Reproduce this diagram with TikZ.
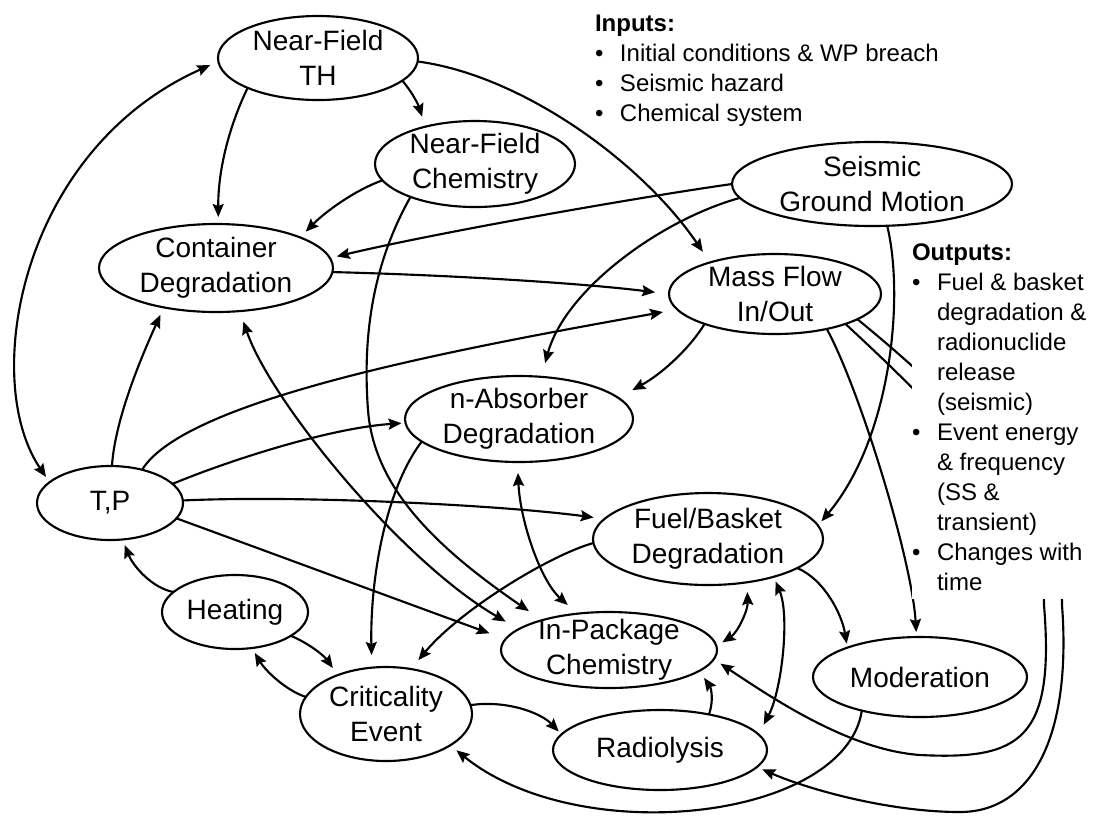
\documentclass[tikz,border=0pt]{standalone}
\usepackage{fontspec}
\setmainfont{Liberation Sans}
\usetikzlibrary{shapes.geometric,arrows.meta}
\begin{document}
\begin{tikzpicture}[x=0.75pt,y=-0.75pt,
  >={Stealth[length=9.75pt,width=8.25pt,inset=1.5pt]},
  ell/.style={draw, ellipse, line width=1.6pt, inner sep=0pt, outer sep=0pt},
  nt/.style={font=\fontsize{21}{26.25}\selectfont, align=center, inner sep=0pt},
  conn/.style={line width=1.6pt},
  arr/.style={conn, ->, shorten >=4pt},
  darr/.style={conn, <->, shorten >=4pt, shorten <=4pt},
  lst/.style={font=\fontsize{18}{22.5}\selectfont, inner sep=0pt, outer sep=0pt, anchor=north west}
]
\useasboundingbox (0,0) rectangle (1094,815);

% ---- nodes ----
\node[ell, minimum width=150pt, minimum height=63pt, label={[nt]center:{Near-Field\\TH}}] (NFTH) at (318,58) {};
\node[ell, minimum width=150pt, minimum height=64.5pt, label={[nt]center:{Near-Field\\Chemistry}}] (NFC) at (475,164) {};
\node[ell, minimum width=175.5pt, minimum height=66pt, label={[nt]center:{Container\\Degradation}}] (CD) at (216,268) {};
\node[ell, minimum width=210pt, minimum height=63pt, label={[nt]center:{Seismic\\Ground Motion}}] (SGM) at (872,184) {};
\node[ell, minimum width=159pt, minimum height=60pt, label={[nt]center:{Mass Flow\\In/Out}}] (MF) at (775,294) {};
\node[ell, minimum width=171pt, minimum height=64.5pt, label={[nt]center:{n-Absorber\\Degradation}}] (NA) at (519,419) {};
\node[ell, minimum width=109.5pt, minimum height=55.5pt, label={[nt]center:{T,P}}] (TP) at (110,503) {};
\node[ell, minimum width=172.5pt, minimum height=69pt, label={[nt]center:{Fuel/Basket\\Degradation}}] (FB) at (708,539) {};
\node[ell, minimum width=109.5pt, minimum height=55.5pt, label={[nt]center:{Heating}}] (Heat) at (235,612) {};
\node[ell, minimum width=162pt, minimum height=57pt, label={[nt]center:{In-Package\\Chemistry}}] (IPC) at (609,650) {};
\node[ell, minimum width=129pt, minimum height=70.5pt, label={[nt]center:{Criticality\\Event}}] (CE) at (386,714) {};
\node[ell, minimum width=160.5pt, minimum height=60pt, label={[nt]center:{Radiolysis}}] (Rad) at (660,750) {};
\node[ell, minimum width=160.5pt, minimum height=60pt, label={[nt]center:{Moderation}}] (Mod) at (920,677) {};

% ---- connectors ----
\draw[arr, shorten >=5.25pt] (NFTH.-157) .. controls (232,120) and (218,165) .. (CD.87);
\draw[arr, shorten >=7.9pt] (NFTH.-15) .. controls (412,92) and (418,104) .. (NFC.143);
\draw[arr, shorten >=9.6pt] (NFTH.-2) .. controls (520,75) and (640,160) .. (MF.154);
\draw[darr, shorten <=4.8pt, shorten >=6.75pt] (TP.161) .. controls (-20,380) and (20,150) .. (NFTH.182);
\draw[arr, shorten >=6pt] (NFC.190) .. controls (355,190) and (325,212) .. (CD.20);
\draw[arr, shorten >=12pt] (NFC.207) .. controls (375,260) and (362,330) .. (368,410) .. controls (374,490) and (440,550) .. (IPC.156);
\draw[arr, shorten >=5.25pt] (SGM.180) .. controls (640,197) and (440,232) .. (CD.5);
\draw[arr, shorten >=10.7pt] (SGM.186) .. controls (660,220) and (565,290) .. (NA.62);
\draw[arr, shorten >=4.1pt] (SGM.-70) .. controls (905,300) and (890,440) .. (FB.7);
\draw[arr, shorten >=12pt] (MF.203) .. controls (692,345) and (665,372) .. (NA.12);
\draw[arr, shorten >=3.75pt] (MF.-34) .. controls (860,390) and (912,560) .. (Mod.95);
\draw[arr, shorten >=10.5pt] (CD.-2) .. controls (450,275) and (580,283) .. (MF.180);
\draw[arr, shorten >=6.2pt] (TP.87) .. controls (115,420) and (140,360) .. (CD.217);
\draw[arr, shorten >=10.9pt] (TP.46) .. controls (185,400) and (450,350) .. (MF.189);
\draw[arr, shorten >=3pt] (TP.17) .. controls (230,460) and (330,428) .. (NA.182);
\draw[arr, shorten >=8.25pt] (TP.2) .. controls (300,495) and (500,505) .. (FB.169);
\draw[arr, shorten >=12.75pt] (TP.-13) .. controls (285,558) and (390,597) .. (IPC.174);
\draw[darr, shorten <=8.25pt, shorten >=11.25pt] (CD.-61) .. controls (270,400) and (400,560) .. (IPC.167);
\draw[arr, shorten >=9.5pt] (NA.193) .. controls (385,490) and (370,580) .. (CE.107);
\draw[arr, shorten >=8.7pt] (FB.182) .. controls (550,555) and (460,610) .. (CE.61);
\draw[darr, shorten <=8.25pt, shorten >=9.75pt] (NA.-92) .. controls (520,520) and (540,580) .. (IPC.131);
\draw[darr, shorten <=7.3pt, shorten >=5.25pt] (FB.-48) .. controls (748,610) and (738,632) .. (IPC.2);
\draw[darr, shorten <=3.75pt, shorten >=8.25pt] (FB.-30) .. controls (790,615) and (782,690) .. (Rad.9);
\draw[arr, shorten >=3pt] (FB.-18) .. controls (825,580) and (842,615) .. (Mod.158);
\draw[arr, shorten >=6.4pt] (Rad.36) .. controls (714,700) and (711,688) .. (IPC.-13);
\draw[arr, shorten >=3pt] (CE.6) .. controls (505,700) and (540,712) .. (Rad.171);
\draw[arr, shorten >=6pt] (Mod.210) .. controls (845,820) and (580,850) .. (CE.-26);
\draw[arr, shorten >=4.5pt] (Heat.162) .. controls (152,588) and (133,566) .. (TP.-71);
\draw[arr, shorten >=6.5pt] (Heat.-23) .. controls (312,645) and (325,657) .. (CE.141);
\draw[arr, shorten >=4.35pt] (CE.168) .. controls (285,690) and (265,670) .. (Heat.-65);
\draw[arr, shorten >=6pt] (MF.-23) .. controls (960,430) and (1044,520) .. (1044,605)
  .. controls (1055,740) and (1020,760) .. (920,755)
  .. controls (850,750) and (775,700) .. (IPC.-5);
\draw[arr, shorten >=4.5pt] (MF.-17) .. controls (950,395) and (1062,500) .. (1062,605)
  .. controls (1072,740) and (1030,812) .. (960,812)
  .. controls (890,812) and (810,790) .. (Rad.-10);

% ---- text blocks ----
\node[lst] (inputs) at (595,10) {\begin{tabular}{@{}l@{}l@{}}
\multicolumn{2}{@{}l@{}}{\textbf{Inputs:}}\\
\makebox[18.75pt][l]{\textbullet} & Initial conditions \& WP breach\\
\makebox[18.75pt][l]{\textbullet} & Seismic hazard\\
\makebox[18.75pt][l]{\textbullet} & Chemical system
\end{tabular}};
\node[lst, fill=white] (outputs) at (912,239) {\begin{tabular}{@{}l@{}l@{}}
\multicolumn{2}{@{}l@{}}{\textbf{Outputs:}}\\
\makebox[18.75pt][l]{\textbullet} & Fuel \& basket\\
 & degradation \&\\
 & radionuclide\\
 & release\\
 & (seismic)\\
\makebox[18.75pt][l]{\textbullet} & Event energy\\
 & \& frequency\\
 & (SS \&\\
 & transient)\\
\makebox[18.75pt][l]{\textbullet} & Changes with\\
 & time
\end{tabular}};
\end{tikzpicture}
\end{document}
